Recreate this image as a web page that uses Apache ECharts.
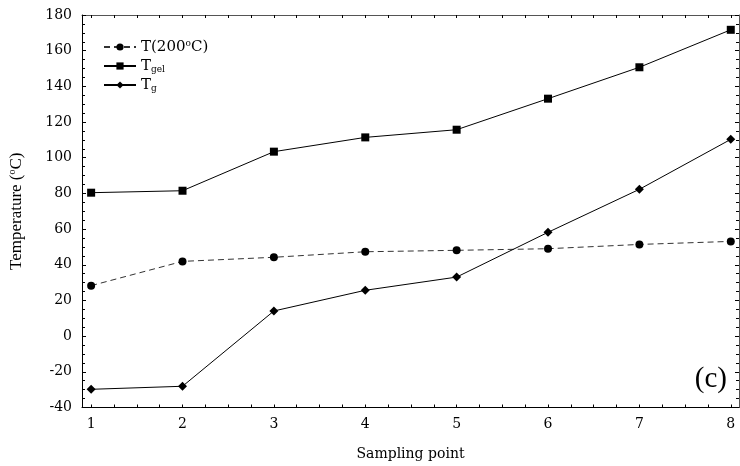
<!DOCTYPE html>
<html>
<head>
<meta charset="utf-8">
<script src="https://cdn.jsdelivr.net/npm/echarts@6/dist/echarts.min.js"></script>
<style>
  html, body { margin: 0; padding: 0; background: #fff; }
  #box { width: 740px; height: 466px; }
</style>
</head>
<body>
<div id="box"></div>
<script>
// sampling points
const points = [1, 2, 3, 4, 5, 6, 7, 8];
// T(200°C)
const tAmb = [28.3, 41.9, 44.2, 47.3, 48.1, 49.0, 51.4, 53.1];
// T_gel
const tGel = [80.4, 81.5, 103.4, 111.4, 115.7, 133.1, 150.7, 171.7];
// T_g
const tG = [-29.8, -28.1, 14.1, 25.7, 33.1, 58.2, 82.3, 110.3];
// x ticks (quarters) and labels
const xLabels = [1, 2, 3, 4, 5, 6, 7, 8];
const xTicks = [];
for (let i = 0; i <= 28; i++) xTicks.push(1 + i * 0.25);

const serif = 'Liberation Serif';
const wide = 'DejaVu Serif';

const pair = arr => arr.map((v, i) => [points[i], v]);

let myecharts = echarts.init(document.getElementById('box'));
let option = {
  animation: false,
  backgroundColor: '#fff',
  title: {
    text: '(c)',
    right: 8,
    top: 360,
    textStyle: { fontFamily: serif, fontSize: 29, fontWeight: 'normal', color: '#000' }
  },
  legend: {
    orient: 'vertical',
    left: 98,
    top: 34,
    itemWidth: 32,
    itemHeight: 9,
    itemGap: 3,
    data: ['T200', 'Tgel', 'Tg'],
    formatter: name => {
      if (name === 'T200') return '{a|T(200}{s|o}{a|C)}';
      if (name === 'Tgel') return '{a|T}{b|gel}';
      return '{a|T}{b|g}';
    },
    textStyle: {
      color: '#000',
      lineHeight: 16,
      rich: {
        a: { fontFamily: wide, fontSize: 15, color: '#000', lineHeight: 16 },
        s: { fontFamily: wide, fontSize: 9, color: '#000', verticalAlign: 'top', lineHeight: 16 },
        b: { fontFamily: wide, fontSize: 9, color: '#000', verticalAlign: 'bottom', lineHeight: 16, padding: [6, 0, 0, 0] }
      }
    }
  },
  grid: { left: 82, right: 1, top: 15, bottom: 58.5, outerBoundsMode: 'none' },
  xAxis: [
    {
      type: 'value',
      min: 0.9,
      max: 8.09,
      name: 'Sampling point',
      nameLocation: 'middle',
      nameGap: 40,
      nameTextStyle: { fontFamily: wide, fontSize: 14, color: '#000' },
      axisLine: { show: true, onZero: false, lineStyle: { color: '#000', width: 1 } },
      axisTick: { show: true, inside: true, length: 3, customValues: xTicks, lineStyle: { color: '#000' } },
      axisLabel: { customValues: xLabels, margin: 10, fontFamily: wide, fontSize: 14, color: '#000' },
      splitLine: { show: false }
    },
    {
      type: 'value',
      position: 'top',
      min: 0.9,
      max: 8.09,
      axisLine: { show: true, onZero: false, lineStyle: { color: '#555', width: 1 } },
      axisTick: { show: true, inside: true, length: 3, customValues: xTicks, lineStyle: { color: '#000' } },
      axisLabel: { show: false },
      splitLine: { show: false }
    }
  ],
  yAxis: [
    {
      type: 'value',
      min: -40,
      max: 180,
      interval: 20,
      name: '{a|Temperature (}{s|o}{a|C)}',
      nameLocation: 'middle',
      nameGap: 55,
      nameTextStyle: {
        rich: {
          a: { fontFamily: serif, fontSize: 17, color: '#000', lineHeight: 20 },
          s: { fontFamily: serif, fontSize: 10, color: '#000', verticalAlign: 'top', lineHeight: 20 }
        }
      },
      axisLine: { show: true, onZero: false, lineStyle: { color: '#000', width: 1 } },
      axisTick: { show: true, inside: true, length: 4, lineStyle: { color: '#000' } },
      minorTick: { show: true, splitNumber: 4, length: 3, lineStyle: { color: '#000' } },
      axisLabel: { margin: 10, fontFamily: wide, fontSize: 14, color: '#000' },
      splitLine: { show: false }
    },
    {
      type: 'value',
      position: 'right',
      min: -40,
      max: 180,
      interval: 20,
      axisLine: { show: true, onZero: false, lineStyle: { color: '#555', width: 1 } },
      axisTick: { show: true, inside: true, length: 4, lineStyle: { color: '#000' } },
      minorTick: { show: true, splitNumber: 4, length: 3, lineStyle: { color: '#000' } },
      axisLabel: { show: false },
      splitLine: { show: false }
    }
  ],
  series: [
    {
      name: 'T200',
      type: 'line',
      data: pair(tAmb),
      symbol: 'circle',
      symbolSize: 8,
      itemStyle: { color: '#000' },
      lineStyle: { color: '#333', width: 1, type: [6, 4] }
    },
    {
      name: 'Tgel',
      type: 'line',
      data: pair(tGel),
      symbol: 'rect',
      symbolSize: 8,
      itemStyle: { color: '#000' },
      lineStyle: { color: '#000', width: 1 }
    },
    {
      name: 'Tg',
      type: 'line',
      data: pair(tG),
      symbol: 'diamond',
      symbolSize: [9, 9],
      itemStyle: { color: '#000' },
      lineStyle: { color: '#000', width: 1 }
    }
  ]
};
myecharts.setOption(option);
</script>
</body>
</html>
